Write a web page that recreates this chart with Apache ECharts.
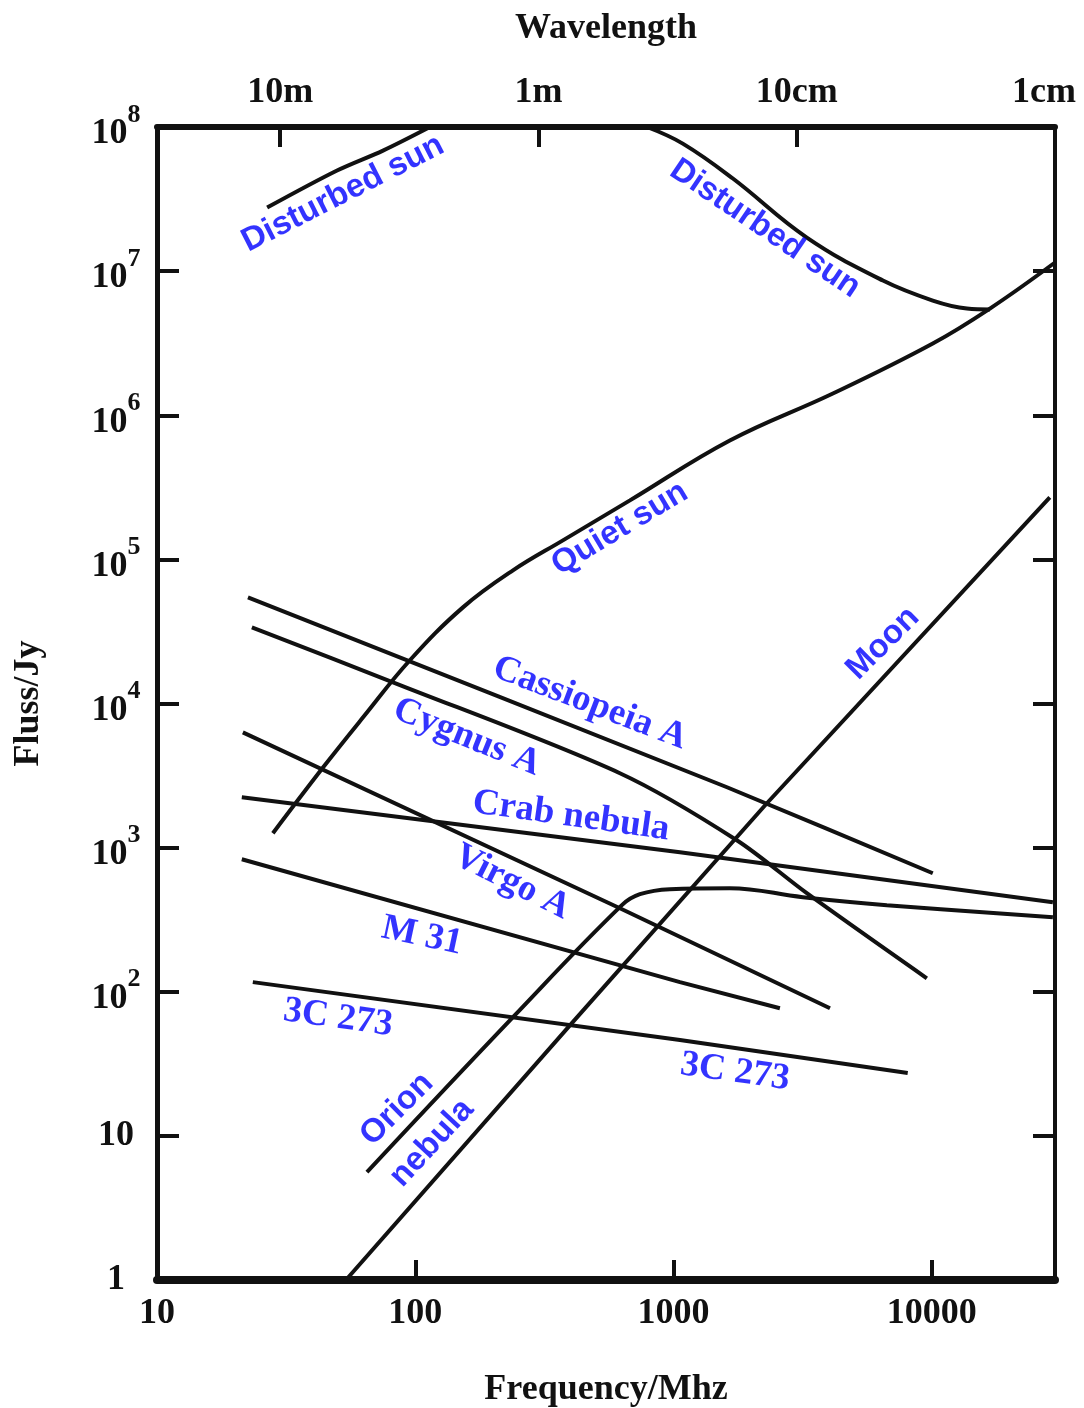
<!DOCTYPE html>
<html>
<head>
<meta charset="utf-8">
<script src="https://cdn.jsdelivr.net/npm/echarts@6/dist/echarts.min.js"></script>
<style>
  html, body { margin: 0; padding: 0; background: #ffffff; }
  #chart { width: 1084px; height: 1408px; }
</style>
</head>
<body>
<div id="chart"></div>
<script>
// ---- data: [frequency MHz, flux density Jy] ----
const disturbedSunLow  = [[26.7, 2.76e7], [49.8, 4.99e7], [75, 6.86e7], [114, 1.0e8]];
const disturbedSunHigh = [[789, 1.0e8], [1086, 7.67e7], [1698, 4.39e7], [3282, 1.71e7], [6469, 8.6e6], [10090, 6.25e6], [13680, 5.5e6], [16790, 5.42e6]];
const quietSun = [[28.1, 1259], [44.0, 3610], [62.8, 8020], [95.3, 19950], [153, 46450], [239, 83900], [373, 135500], [678, 256600], [1652, 668500], [4140, 1.416e6], [10090, 3.15e6], [16790, 5.5e6], [30000, 1.148e7]];
const moon = [[53.9, 1], [404, 60.6], [2299, 2032], [28640, 2.69e5]];
const orionNebula = [[65, 5.61], [239, 66.7], [631, 399], [741, 475], [968, 515], [1652, 523], [3167, 453], [6698, 399], [29440, 329]];
const cassiopeiaA = [[22.5, 54500], [1611, 2624], [10090, 664]];
const cygnusA = [[23.3, 33750], [82, 14030], [620, 3281], [1758, 1125], [3282, 483], [9570, 124]];
const crabNebula = [[21.3, 2237], [1059, 929], [29440, 418]];
const virgoA = [[21.5, 6310], [620, 380], [4035, 76.9]];
const m31 = [[21.3, 831], [1059, 116.6], [2582, 76.9]];
const c3C273 = [[23.5, 116.6], [1059, 46.2], [8070, 27.3]];

// ---- axis tick labels ----
const freqTickLabels = ['10', '100', '1000', '10000'];
const wavelengthTickLabels = ['10m', '1m', '10cm', '1cm']; // at -log10(lambda/m) = -1, 0, 1, 2
const fluxRange = [1, 1e8];
const freqRange = [10, 30000];

// ---- curve label annotations (anchor in data units) ----
const curveLabelText = ['Disturbed sun', 'Disturbed sun', 'Quiet sun', 'Moon', 'Orion', 'nebula',
  'Cassiopeia A', 'Cygnus A', 'Crab nebula', 'Virgo A', 'M 31', '3C 273', '3C 273'];
const curveLabelAt = [[52.5, 3.45e7], [2259, 1.97e7], [620, 1.64e5], [6470, 26150], [84.9, 15.3], [116, 8.91],
  [474, 10030], [158.5, 5830], [401, 1651], [236.6, 575], [106.2, 243], [50.2, 65.6], [1730, 27.7]];

// ---- styles ----
const labelAngle = [27, -34, 31, 45, 45, 47, -21, -22, -8, -27, -12, -8, -8];
const labelSans  = [true, true, true, true, true, true, false, false, false, false, false, false, false];
const SERIF = '"Liberation Serif", "Times New Roman", serif';
const SANS = '"Liberation Sans", Arial, sans-serif';
const BLUE = '#0000ff';
const INK = '#111111';

const chart = echarts.init(document.getElementById('chart'), null, { renderer: 'canvas' });

function lineSeries(name, data, smooth) {
  return {
    type: 'line', name: name, data: data, xAxisIndex: 0, yAxisIndex: 0,
    showSymbol: false, symbol: 'none', smooth: smooth || false,
    lineStyle: { color: INK, width: 4 }, clip: true, z: 3
  };
}

const labelData = curveLabelText.map((t, i) => ({
  value: curveLabelAt[i],
  label: {
    show: true, formatter: t, rotate: labelAngle[i], position: 'inside',
    fontFamily: labelSans[i] ? SANS : SERIF,
    fontSize: labelSans[i] ? 33 : 37,
    fontWeight: 'bold', color: BLUE
  }
}));

const tickFont = { fontFamily: SERIF, fontWeight: 'bold', fontSize: 36, color: INK };
const nameFont = { fontFamily: SERIF, fontWeight: 'bold', fontSize: 36, color: INK };

const option = {
  backgroundColor: '#ffffff',
  animation: false,
  grid: { left: 157, right: 29, top: 127, bottom: 128, containLabel: false, outerBoundsMode: 'none', show: false },
  xAxis: [
    {
      type: 'log', logBase: 10, min: freqRange[0], max: freqRange[1], position: 'bottom',
      name: 'Frequency/Mhz', nameLocation: 'middle', nameGap: 92, nameTextStyle: nameFont,
      axisLine: { show: true, onZero: false, lineStyle: { color: INK, width: 8 } },
      axisTick: { show: true, inside: true, length: 20, lineStyle: { color: INK, width: 4 } },
      axisLabel: {
        ...tickFont, margin: 16, showMaxLabel: false,
        formatter: function (v) {
          const e = Math.round(Math.log10(v));
          if (Math.abs(Math.log10(v) - e) > 1e-6) return '';
          return freqTickLabels[e - 1] || '';
        }
      },
      splitLine: { show: false }, minorTick: { show: false }
    },
    {
      type: 'value', position: 'top',
      min: Math.log10(freqRange[0]) - Math.log10(300),
      max: Math.log10(freqRange[1]) - Math.log10(300),
      minInterval: 1, maxInterval: 1,
      name: 'Wavelength', nameLocation: 'middle', nameGap: 80, nameTextStyle: nameFont,
      axisLine: { show: true, onZero: false, lineStyle: { color: INK, width: 6 } },
      axisTick: { show: true, inside: true, length: 20, lineStyle: { color: INK, width: 4 } },
      axisLabel: {
        ...tickFont, margin: 16, showMinLabel: false,
        formatter: function (v) {
          const i = Math.round(v);
          if (Math.abs(v - i) > 1e-6) return '';
          const t = wavelengthTickLabels[i + 1] || '';
          return i === 2 ? '{r|' + t + '}' : t;
        },
        rich: {
          r: { fontFamily: SERIF, fontWeight: 'bold', fontSize: 36, color: INK, padding: [0, 22, 0, 0] }
        }
      },
      splitLine: { show: false }
    }
  ],
  yAxis: [
    {
      type: 'log', logBase: 10, min: fluxRange[0], max: fluxRange[1], position: 'left',
      name: 'Fluss/Jy', nameLocation: 'middle', nameGap: 110, nameRotate: 90, nameTextStyle: nameFont,
      axisLine: { show: true, onZero: false, lineStyle: { color: INK, width: 5 } },
      axisTick: { show: true, inside: true, length: 22, lineStyle: { color: INK, width: 4 } },
      axisLabel: {
        ...tickFont, margin: 41, align: 'center',
        formatter: function (v) {
          const e = Math.round(Math.log10(v));
          if (e === 0) return '{p|1}';
          if (e === 1) return '{p|10}';
          return '{b|10}{s|' + e + '}';
        },
        rich: {
          p: { fontFamily: SERIF, fontWeight: 'bold', fontSize: 36, color: INK },
          b: { fontFamily: SERIF, fontWeight: 'bold', fontSize: 36, color: INK, lineHeight: 50, verticalAlign: 'bottom', padding: [14, 0, 0, 0] },
          s: { fontFamily: SERIF, fontWeight: 'bold', fontSize: 26, color: INK, lineHeight: 22, verticalAlign: 'top' }
        }
      },
      splitLine: { show: false }, minorTick: { show: false }
    },
    {
      type: 'log', logBase: 10, min: fluxRange[0], max: fluxRange[1], position: 'right',
      axisLine: { show: true, onZero: false, lineStyle: { color: INK, width: 4 } },
      axisTick: { show: true, inside: true, length: 22, lineStyle: { color: INK, width: 4 } },
      axisLabel: { show: false },
      splitLine: { show: false }
    }
  ],
  series: [
    lineSeries('Disturbed sun (low)', disturbedSunLow, 0.3),
    lineSeries('Disturbed sun (high)', disturbedSunHigh, 0.4),
    lineSeries('Quiet sun', quietSun, 0.4),
    lineSeries('Moon', moon, false),
    lineSeries('Orion nebula', orionNebula, 0.4),
    lineSeries('Cassiopeia A', cassiopeiaA, 0.2),
    lineSeries('Cygnus A', cygnusA, 0.3),
    lineSeries('Crab nebula', crabNebula, false),
    lineSeries('Virgo A', virgoA, false),
    lineSeries('M 31', m31, false),
    lineSeries('3C 273', c3C273, false),
    {
      type: 'scatter', name: 'labels', data: labelData, symbolSize: 0,
      xAxisIndex: 0, yAxisIndex: 0, z: 5, silent: true
    }
  ]
};

chart.setOption(option);
</script>
</body>
</html>
